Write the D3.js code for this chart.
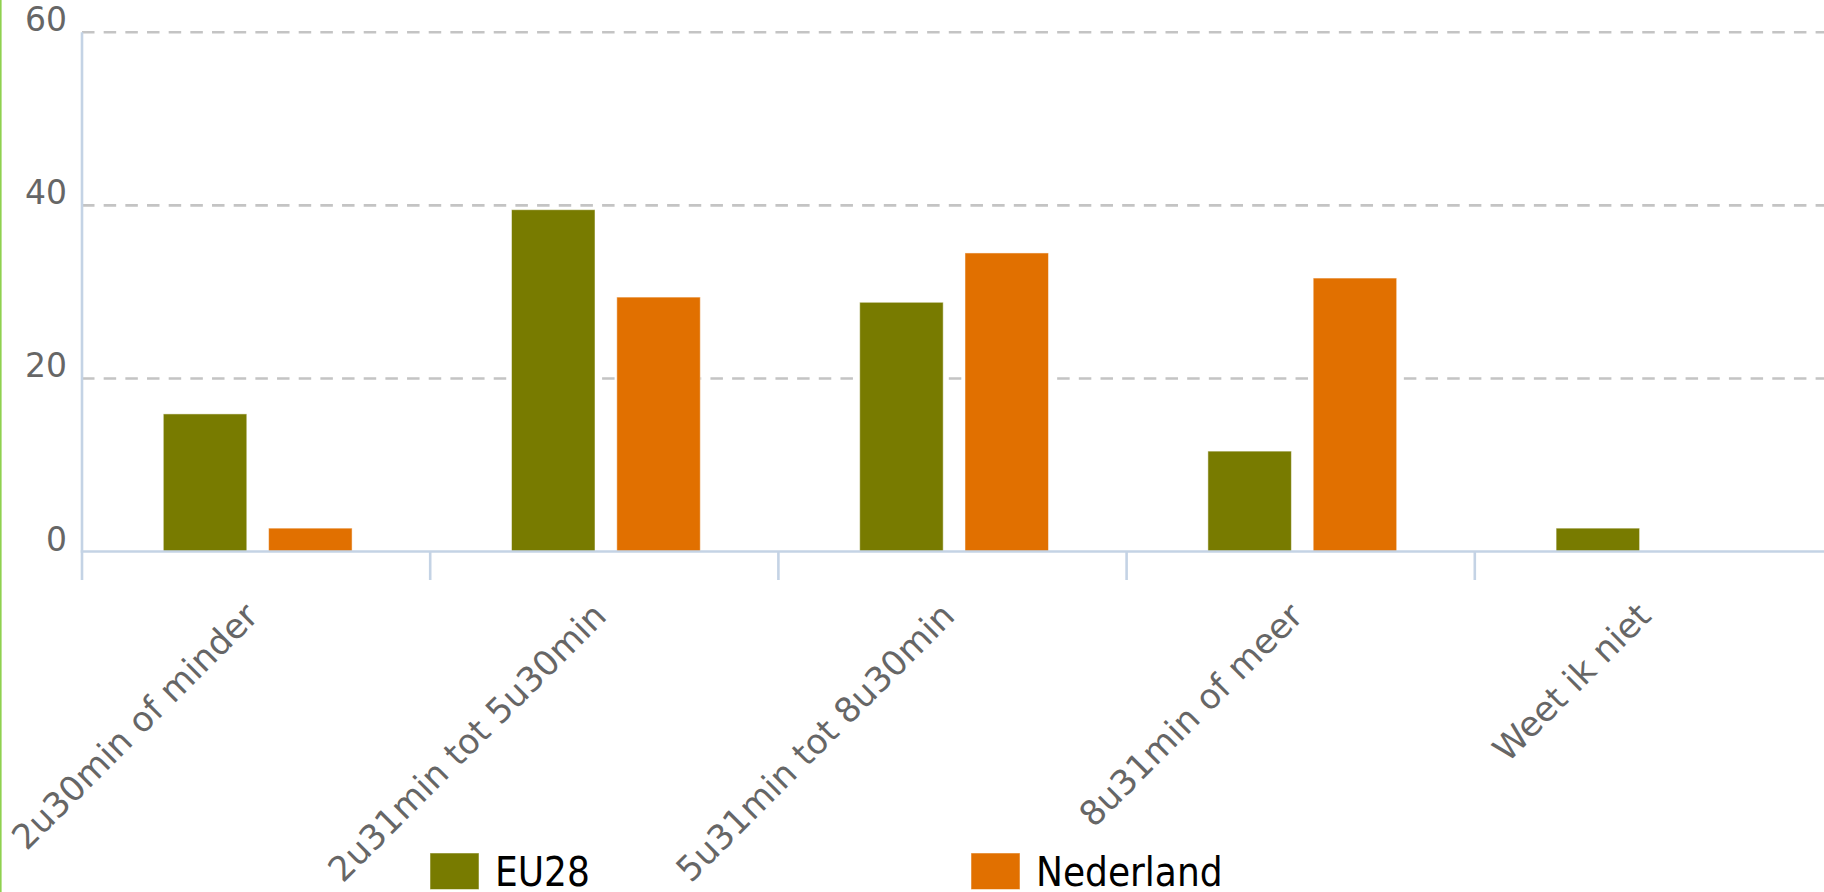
<!DOCTYPE html>
<html>
<head>
<meta charset="utf-8">
<script src="https://cdn.jsdelivr.net/npm/d3@7"></script>
<style>
  html, body { margin: 0; padding: 0; background: #fff; overflow: hidden; }
  svg { display: block; }
</style>
</head>
<body>
<svg id="chart" width="1824" height="892"></svg>
<script>
// Slaapduur per nacht: EU28 vs Nederland (%)
const categories = ["2u30min of minder", "2u31min tot 5u30min", "5u31min tot 8u30min", "8u31min of meer", "Weet ik niet"];
const seriesNames = ["EU28", "Nederland"];
const eu28 = [15.9, 39.5, 28.8, 11.6, 2.7];
const nederland = [2.7, 29.4, 34.5, 31.6, 0];
const yTicks = [0, 20, 40, 60];
const colors = ["#787b00", "#e17000"];

const rows = categories.map((c, i) => ({ cat: c, values: [eu28[i], nederland[i]] }));

const svg = d3.select("#chart");
const W = 1824, H = 892;
const plotLeft = 82, plotRight = 1823, plotTop = 32.3, plotBottom = 551.5;

const x0 = d3.scaleBand().domain(categories).range([plotLeft, plotRight]).paddingInner(0).paddingOuter(0);
const x1 = d3.scaleBand().domain(seriesNames).range([0, x0.bandwidth()])
  .paddingInner(0.207).paddingOuter(0.757).align(0.51);
const y = d3.scaleLinear().domain([0, 60]).range([plotBottom, plotTop]);

// left accent border
svg.append("rect").attr("x", 0).attr("y", 0).attr("width", 1.6).attr("height", H).attr("fill", "#8fd14f");

// dashed grid lines
svg.append("g").selectAll("line").data(yTicks.filter(d => d > 0)).join("line")
  .attr("x1", plotLeft).attr("x2", W)
  .attr("y1", d => y(d)).attr("y2", d => y(d))
  .attr("stroke", "#c4c4c4").attr("stroke-width", 2.6)
  .attr("stroke-dasharray", "12.5 9.17");

// y tick labels
svg.append("g").selectAll("text").data(yTicks).join("text")
  .attr("x", 67).attr("y", d => y(d) - 1)
  .attr("text-anchor", "end")
  .attr("font-family", "DejaVu Sans, Verdana, sans-serif")
  .attr("font-size", 33).attr("fill", "#666")
  .text(d => d);

// bars
const groups = svg.append("g").selectAll("g").data(rows).join("g")
  .attr("transform", d => `translate(${x0(d.cat)},0)`);
groups.selectAll("rect").data(d => d.values.map((v, i) => ({ key: seriesNames[i], v, i })).filter(d => d.v > 0))
  .join("rect")
  .attr("x", d => x1(d.key))
  .attr("width", x1.bandwidth())
  .attr("y", d => y(d.v))
  .attr("height", d => y(0) - y(d.v))
  .attr("fill", d => colors[d.i])
  .attr("stroke", "#fff").attr("stroke-opacity", 0.5).attr("stroke-width", 1);

// axis lines
const axisColor = "#c4d3e5";
svg.append("line").attr("x1", plotLeft).attr("x2", plotLeft).attr("y1", plotTop).attr("y2", plotBottom)
  .attr("stroke", axisColor).attr("stroke-width", 2.6);
svg.append("line").attr("x1", plotLeft - 1.3).attr("x2", W).attr("y1", plotBottom).attr("y2", plotBottom)
  .attr("stroke", axisColor).attr("stroke-width", 2.6);

// x tick marks at band edges
svg.append("g").selectAll("line").data(categories).join("line")
  .attr("x1", d => x0(d)).attr("x2", d => x0(d))
  .attr("y1", plotBottom).attr("y2", 580)
  .attr("stroke", axisColor).attr("stroke-width", 2.6);

// rotated category labels
svg.append("g").selectAll("text").data(categories).join("text")
  .attr("transform", d => `translate(${x0(d) + x0.bandwidth() / 2 + 4},618) rotate(-45)`)
  .attr("text-anchor", "end")
  .attr("font-family", "DejaVu Sans, Verdana, sans-serif")
  .attr("font-size", 34.5).attr("fill", "#666")
  .text(d => d);

// legend
const legendX = [430, 971];
const legend = svg.append("g").selectAll("g").data(seriesNames).join("g")
  .attr("transform", (d, i) => `translate(${legendX[i]},853)`);
legend.append("rect").attr("width", 49).attr("height", 36.5)
  .attr("fill", (d, i) => colors[i])
  .attr("stroke", "#fff").attr("stroke-opacity", 0.5).attr("stroke-width", 1);
legend.append("text").attr("x", 65).attr("y", 33)
  .attr("font-family", "DejaVu Sans, Verdana, sans-serif")
  .attr("font-stretch", "condensed")
  .attr("font-size", 40).attr("fill", "#000")
  .text(d => d);
</script>
</body>
</html>
